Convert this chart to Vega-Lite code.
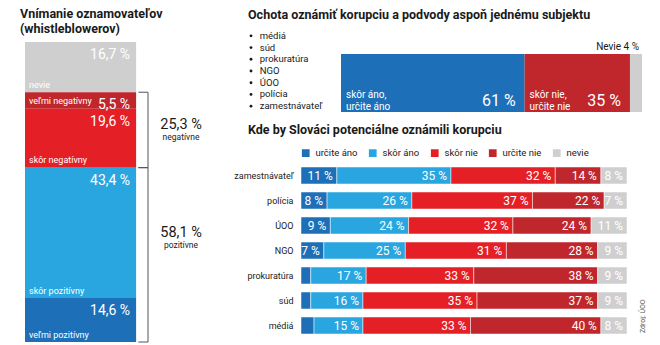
{
  "$schema": "https://vega.github.io/schema/vega-lite/v6.json",
  "padding": {"left": 20, "top": 7, "right": 0, "bottom": 0},
  "spacing": 8,
  "resolve": {"scale": {"color": "independent"}, "legend": {"color": "independent"}},
  "config": {
    "view": {"stroke": null},
    "font": "Roboto",
    "title": {"fontSize": 12.5, "fontWeight": "bold", "color": "#1a1a1a", "anchor": "start", "frame": "group"}
  },
  "hconcat": [
    {
      "title": {"text": ["Vnímanie oznamovateľov", "(whistleblowerov)"], "dx": -5, "lineHeight": 15, "offset": -5},
      "width": 200,
      "height": 312,
      "data": {"values": [
        {"k": 1, "cat": "nevie", "value": 16.7, "label": "16,7 %", "grp": null, "gtotal": null},
        {"k": 2, "cat": "veľmi negatívny", "value": 5.5, "label": "5,5 %", "grp": "negatívne", "gtotal": "25,3 %"},
        {"k": 3, "cat": "skôr negatívny", "value": 19.6, "label": "19,6 %", "grp": "negatívne", "gtotal": "25,3 %"},
        {"k": 4, "cat": "skôr pozitívny", "value": 43.4, "label": "43,4 %", "grp": "pozitívne", "gtotal": "58,1 %"},
        {"k": 5, "cat": "veľmi pozitívny", "value": 14.6, "label": "14,6 %", "grp": "pozitívne", "gtotal": "58,1 %"}
      ]},
      "transform": [{"stack": "value", "groupby": [], "sort": [{"field": "k", "order": "ascending"}], "as": ["y0", "y1"]}],
      "layer": [
        {
          "mark": {"type": "bar"},
          "encoding": {
            "x": {"datum": 0, "type": "quantitative", "scale": {"domain": [0, 1.8], "nice": false, "zero": false}, "axis": null},
            "x2": {"datum": 1},
            "y": {"field": "y0", "type": "quantitative", "scale": {"domain": [-4, 99.8], "reverse": true, "nice": false, "zero": false}, "axis": null},
            "y2": {"field": "y1"},
            "color": {"field": "cat", "type": "nominal", "scale": {"domain": ["nevie", "veľmi negatívny", "skôr negatívny", "skôr pozitívny", "veľmi pozitívny"], "range": ["#cfcfcf", "#c0272d", "#e41f26", "#29a6e0", "#1d6fb8"]}, "legend": null}
          }
        },
        {
          "mark": {"type": "text", "align": "right", "baseline": "alphabetic", "dx": -6, "dy": 17, "fontSize": 14, "color": "white"},
          "encoding": {"x": {"datum": 1, "type": "quantitative"}, "y": {"field": "y0", "type": "quantitative"}, "text": {"field": "label"}}
        },
        {
          "mark": {"type": "text", "align": "left", "baseline": "alphabetic", "dx": 4, "dy": -4.5, "fontSize": 9, "color": "white"},
          "encoding": {"x": {"datum": 0, "type": "quantitative"}, "y": {"field": "y1", "type": "quantitative"}, "text": {"field": "cat"}}
        },
        {
          "transform": [
            {"filter": "datum.grp != null"},
            {"aggregate": [{"op": "min", "field": "y0", "as": "gs"}, {"op": "max", "field": "y1", "as": "ge"}], "groupby": ["grp", "gtotal"]}
          ],
          "layer": [
            {"mark": {"type": "rule", "color": "#555555", "strokeWidth": 1}, "encoding": {"x": {"datum": 1.107, "type": "quantitative"}, "y": {"field": "gs", "type": "quantitative"}, "y2": {"field": "ge"}}},
            {"mark": {"type": "rule", "color": "#555555", "strokeWidth": 1}, "encoding": {"x": {"datum": 1.02, "type": "quantitative"}, "x2": {"datum": 1.107}, "y": {"field": "gs", "type": "quantitative"}}},
            {"mark": {"type": "rule", "color": "#555555", "strokeWidth": 1}, "encoding": {"x": {"datum": 1.02, "type": "quantitative"}, "x2": {"datum": 1.107}, "y": {"field": "ge", "type": "quantitative"}}},
            {
              "transform": [{"filter": "datum.grp == 'negatívne'"}],
              "layer": [
                {"mark": {"type": "text", "align": "center", "baseline": "alphabetic", "dy": 37, "fontSize": 14.5, "color": "#1a1a1a"}, "encoding": {"x": {"datum": 1.404, "type": "quantitative"}, "y": {"field": "gs", "type": "quantitative"}, "text": {"field": "gtotal"}}},
                {"mark": {"type": "text", "align": "center", "baseline": "alphabetic", "dy": 48, "fontSize": 8.5, "color": "#1a1a1a"}, "encoding": {"x": {"datum": 1.404, "type": "quantitative"}, "y": {"field": "gs", "type": "quantitative"}, "text": {"field": "grp"}}}
              ]
            },
            {
              "transform": [{"filter": "datum.grp == 'pozitívne'"}],
              "layer": [
                {"mark": {"type": "text", "align": "center", "baseline": "alphabetic", "dy": 69, "fontSize": 14.5, "color": "#1a1a1a"}, "encoding": {"x": {"datum": 1.404, "type": "quantitative"}, "y": {"field": "gs", "type": "quantitative"}, "text": {"field": "gtotal"}}},
                {"mark": {"type": "text", "align": "center", "baseline": "alphabetic", "dy": 80, "fontSize": 8.5, "color": "#1a1a1a"}, "encoding": {"x": {"datum": 1.404, "type": "quantitative"}, "y": {"field": "gs", "type": "quantitative"}, "text": {"field": "grp"}}}
              ]
            }
          ]
        }
      ]
    },
    {
      "spacing": 11,
      "resolve": {"scale": {"color": "independent"}, "legend": {"color": "independent"}},
      "vconcat": [
        {
          "title": {"text": "Ochota oznámiť korupciu a podvody aspoň jednému subjektu", "dx": -53, "offset": 9},
          "width": 341,
          "height": 82,
          "resolve": {"scale": {"y": "independent"}},
          "layer": [
            {
              "data": {"values": [
                {"k": 1, "cat": "áno", "value": 61, "pct": "61 %", "label": "skôr áno,\nurčite áno"},
                {"k": 2, "cat": "nie", "value": 35, "pct": "35 %", "label": "skôr nie,\nurčite nie"},
                {"k": 3, "cat": "nevie", "value": 4, "note": "Nevie 4 %"}
              ]},
              "transform": [{"stack": "value", "groupby": [], "sort": [{"field": "k", "order": "ascending"}], "as": ["x0", "x1"]}],
              "layer": [
                {
                  "mark": {"type": "bar"},
                  "encoding": {
                    "x": {"field": "x0", "type": "quantitative", "scale": {"domain": [-13.29, 100], "nice": false, "zero": false}, "axis": null},
                    "x2": {"field": "x1"},
                    "y": {"datum": 0, "type": "quantitative", "scale": {"domain": [0, 1.414], "nice": false}, "axis": null},
                    "y2": {"datum": 1},
                    "color": {"field": "cat", "type": "nominal", "scale": {"domain": ["áno", "nie", "nevie"], "range": ["#1d6fb8", "#c0272d", "#cfcfcf"]}, "legend": null}
                  }
                },
                {
                  "transform": [{"filter": "datum.pct != null"}],
                  "mark": {"type": "text", "align": "right", "baseline": "alphabetic", "dx": -9, "dy": -6, "fontSize": 16, "color": "white"},
                  "encoding": {"x": {"field": "x1", "type": "quantitative"}, "y": {"datum": 0, "type": "quantitative"}, "text": {"field": "pct"}}
                },
                {
                  "transform": [{"filter": "datum.label != null"}],
                  "mark": {"type": "text", "align": "left", "baseline": "alphabetic", "dx": 5, "dy": -14.5, "fontSize": 10, "lineHeight": 12.5, "lineBreak": "\n", "color": "white"},
                  "encoding": {"x": {"field": "x0", "type": "quantitative"}, "y": {"datum": 0, "type": "quantitative"}, "text": {"field": "label"}}
                },
                {
                  "transform": [{"filter": "datum.note != null"}],
                  "mark": {"type": "text", "align": "right", "baseline": "alphabetic", "dx": -3, "dy": -4, "fontSize": 10, "color": "#1a1a1a"},
                  "encoding": {"x": {"field": "x1", "type": "quantitative"}, "y": {"datum": 1, "type": "quantitative"}, "text": {"field": "note"}}
                }
              ]
            },
            {
              "data": {"values": [{"s": "médiá"}, {"s": "súd"}, {"s": "prokuratúra"}, {"s": "NGO"}, {"s": "ÚOO"}, {"s": "polícia"}, {"s": "zamestnávateľ"}]},
              "encoding": {"y": {"field": "s", "type": "nominal", "sort": null, "axis": null}},
              "layer": [
                {"mark": {"type": "point", "filled": true, "size": 8, "color": "#1a1a1a", "opacity": 1}, "encoding": {"x": {"datum": -29.9, "type": "quantitative"}}},
                {"mark": {"type": "text", "align": "left", "baseline": "middle", "fontSize": 9.5, "color": "#1a1a1a"}, "encoding": {"x": {"datum": -27.0, "type": "quantitative"}, "text": {"field": "s"}}}
              ]
            }
          ]
        },
        {
          "title": {"text": "Kde by Slováci potenciálne oznámili korupciu", "dx": -53, "offset": 12},
          "width": 326,
          "height": 175,
          "data": {"values": [
            {"subj": "zamestnávateľ", "k": 1, "ans": "určite áno", "value": 11},
            {"subj": "zamestnávateľ", "k": 2, "ans": "skôr áno", "value": 35},
            {"subj": "zamestnávateľ", "k": 3, "ans": "skôr nie", "value": 32},
            {"subj": "zamestnávateľ", "k": 4, "ans": "určite nie", "value": 14},
            {"subj": "zamestnávateľ", "k": 5, "ans": "nevie", "value": 8},
            {"subj": "polícia", "k": 1, "ans": "určite áno", "value": 8},
            {"subj": "polícia", "k": 2, "ans": "skôr áno", "value": 26},
            {"subj": "polícia", "k": 3, "ans": "skôr nie", "value": 37},
            {"subj": "polícia", "k": 4, "ans": "určite nie", "value": 22},
            {"subj": "polícia", "k": 5, "ans": "nevie", "value": 7},
            {"subj": "ÚOO", "k": 1, "ans": "určite áno", "value": 9},
            {"subj": "ÚOO", "k": 2, "ans": "skôr áno", "value": 24},
            {"subj": "ÚOO", "k": 3, "ans": "skôr nie", "value": 32},
            {"subj": "ÚOO", "k": 4, "ans": "určite nie", "value": 24},
            {"subj": "ÚOO", "k": 5, "ans": "nevie", "value": 11},
            {"subj": "NGO", "k": 1, "ans": "určite áno", "value": 7},
            {"subj": "NGO", "k": 2, "ans": "skôr áno", "value": 25},
            {"subj": "NGO", "k": 3, "ans": "skôr nie", "value": 31},
            {"subj": "NGO", "k": 4, "ans": "určite nie", "value": 28},
            {"subj": "NGO", "k": 5, "ans": "nevie", "value": 9},
            {"subj": "prokuratúra", "k": 1, "ans": "určite áno", "value": 3},
            {"subj": "prokuratúra", "k": 2, "ans": "skôr áno", "value": 17},
            {"subj": "prokuratúra", "k": 3, "ans": "skôr nie", "value": 33},
            {"subj": "prokuratúra", "k": 4, "ans": "určite nie", "value": 38},
            {"subj": "prokuratúra", "k": 5, "ans": "nevie", "value": 9},
            {"subj": "súd", "k": 1, "ans": "určite áno", "value": 3},
            {"subj": "súd", "k": 2, "ans": "skôr áno", "value": 16},
            {"subj": "súd", "k": 3, "ans": "skôr nie", "value": 35},
            {"subj": "súd", "k": 4, "ans": "určite nie", "value": 37},
            {"subj": "súd", "k": 5, "ans": "nevie", "value": 9},
            {"subj": "médiá", "k": 1, "ans": "určite áno", "value": 4},
            {"subj": "médiá", "k": 2, "ans": "skôr áno", "value": 15},
            {"subj": "médiá", "k": 3, "ans": "skôr nie", "value": 33},
            {"subj": "médiá", "k": 4, "ans": "určite nie", "value": 40},
            {"subj": "médiá", "k": 5, "ans": "nevie", "value": 8}
          ]},
          "transform": [
            {"stack": "value", "groupby": ["subj"], "sort": [{"field": "k", "order": "ascending"}], "as": ["x0", "x1"]},
            {"calculate": "datum.value + ' %'", "as": "lbl"}
          ],
          "encoding": {
            "y": {
              "field": "subj", "type": "nominal",
              "sort": ["zamestnávateľ", "polícia", "ÚOO", "NGO", "prokuratúra", "súd", "médiá"],
              "scale": {"paddingInner": 0.32, "paddingOuter": 0.16},
              "axis": {"title": null, "domain": false, "ticks": false, "labelPadding": 8, "labelFontSize": 9, "labelColor": "#1a1a1a"}
            }
          },
          "layer": [
            {
              "mark": {"type": "bar", "stroke": "white", "strokeWidth": 0.5},
              "encoding": {
                "x": {"field": "x0", "type": "quantitative", "scale": {"domain": [0, 100], "nice": false}, "axis": null},
                "x2": {"field": "x1"},
                "color": {
                  "field": "ans", "type": "nominal",
                  "scale": {"domain": ["určite áno", "skôr áno", "skôr nie", "určite nie", "nevie"], "range": ["#1d6fb8", "#29a6e0", "#e41f26", "#c0272d", "#cfcfcf"]},
                  "legend": {"orient": "top", "direction": "horizontal", "title": null, "symbolType": "square", "symbolSize": 60, "symbolStrokeWidth": 0, "labelFontSize": 9.5, "labelColor": "#1a1a1a", "columnPadding": 10, "labelOffset": 5, "offset": 5, "padding": 0}
                }
              }
            },
            {
              "transform": [{"filter": "datum.value >= 5"}],
              "mark": {"type": "text", "align": "right", "baseline": "middle", "dx": -4, "fontSize": 12, "color": "white"},
              "encoding": {"x": {"field": "x1", "type": "quantitative"}, "text": {"field": "lbl"}}
            },
            {
              "transform": [{"filter": "datum.subj == 'médiá' && datum.k == 5"}],
              "mark": {"type": "text", "angle": 270, "align": "left", "baseline": "middle", "dx": -7.5, "fontSize": 7, "color": "#555555"},
              "encoding": {"x": {"datum": 104.8, "type": "quantitative"}, "text": {"value": "Zdroj: ÚOO"}}
            }
          ]
        }
      ]
    }
  ]
}
